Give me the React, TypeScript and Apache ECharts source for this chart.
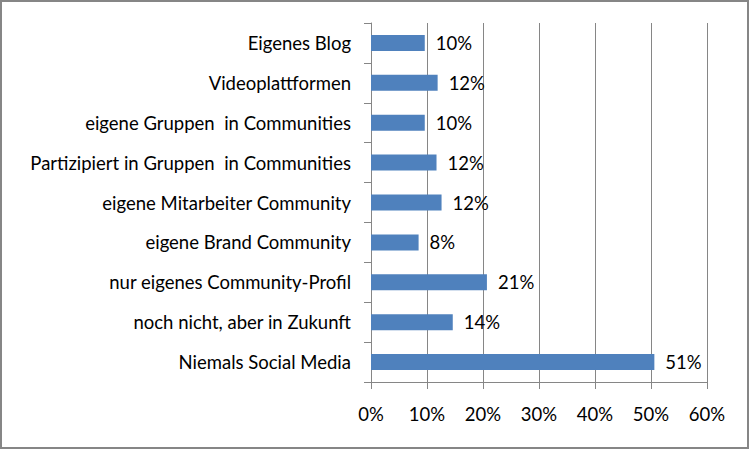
import React, { useEffect, useRef } from "react";
import * as echarts from "echarts";

const categories = [
  "Eigenes Blog",
  "Videoplattformen",
  "eigene Gruppen  in Communities",
  "Partizipiert in Gruppen  in Communities",
  "eigene Mitarbeiter Community",
  "eigene Brand Community",
  "nur eigenes Community-Profil",
  "noch nicht, aber in Zukunft",
  "Niemals Social Media",
];
const values = [9.6, 11.9, 9.6, 11.7, 12.6, 8.5, 20.7, 14.6, 50.6];
const valueLabels = ["10%", "12%", "10%", "12%", "12%", "8%", "21%", "14%", "51%"];
const xTicks = [0, 10, 20, 30, 40, 50, 60];

const FONT = "Lato";
const FS = 18.5;

export default function App() {
  const ref = useRef<HTMLDivElement>(null);
  useEffect(() => {
    if (!ref.current) return;
    const chart = echarts.init(ref.current, null, { renderer: "svg" });
    const cats = [...categories].reverse();
    const vals = [...values].reverse();
    const labs = [...valueLabels].reverse();
    chart.setOption({
      animation: false,
      backgroundColor: "#ffffff",
      grid: { left: 371, right: 43, top: 23, bottom: 68, containLabel: false },
      xAxis: {
        type: "value",
        min: xTicks[0],
        max: xTicks[xTicks.length - 1],
        interval: 10,
        axisLine: { show: true, lineStyle: { color: "#868686", width: 1 } },
        axisTick: { show: true, length: 7, lineStyle: { color: "#868686" } },
        splitLine: { show: true, lineStyle: { color: "#868686", width: 1 } },
        axisLabel: {
          formatter: (v: number) => `${v}%`,
          color: "#000",
          fontFamily: FONT,
          fontSize: FS,
          margin: 22,
        },
      },
      yAxis: {
        type: "category",
        data: cats,
        axisLine: { show: true, lineStyle: { color: "#868686", width: 1 } },
        axisTick: { show: true, length: 7, alignWithLabel: false, lineStyle: { color: "#868686" } },
        splitLine: { show: false },
        axisLabel: {
          color: "#000",
          fontFamily: FONT,
          fontSize: FS,
          margin: 20,
        },
      },
      series: [
        {
          type: "bar",
          data: vals,
          barWidth: 16,
          itemStyle: { color: "#4f81bd" },
          label: {
            show: true,
            position: "right",
            distance: 11,
            color: "#000",
            fontFamily: FONT,
            fontSize: FS,
            formatter: (p: any) => labs[p.dataIndex],
          },
        },
      ],
      graphic: [
        {
          type: "rect",
          shape: { x: 1, y: 1, width: 747, height: 447 },
          style: { fill: "none", stroke: "#868686", lineWidth: 2 },
          silent: true,
        },
      ],
    });
    return () => chart.dispose();
  }, []);
  return (
    <div
      ref={ref}
      style={{ position: "fixed", left: 0, top: 0, width: 750, height: 450 }}
    />
  );
}
